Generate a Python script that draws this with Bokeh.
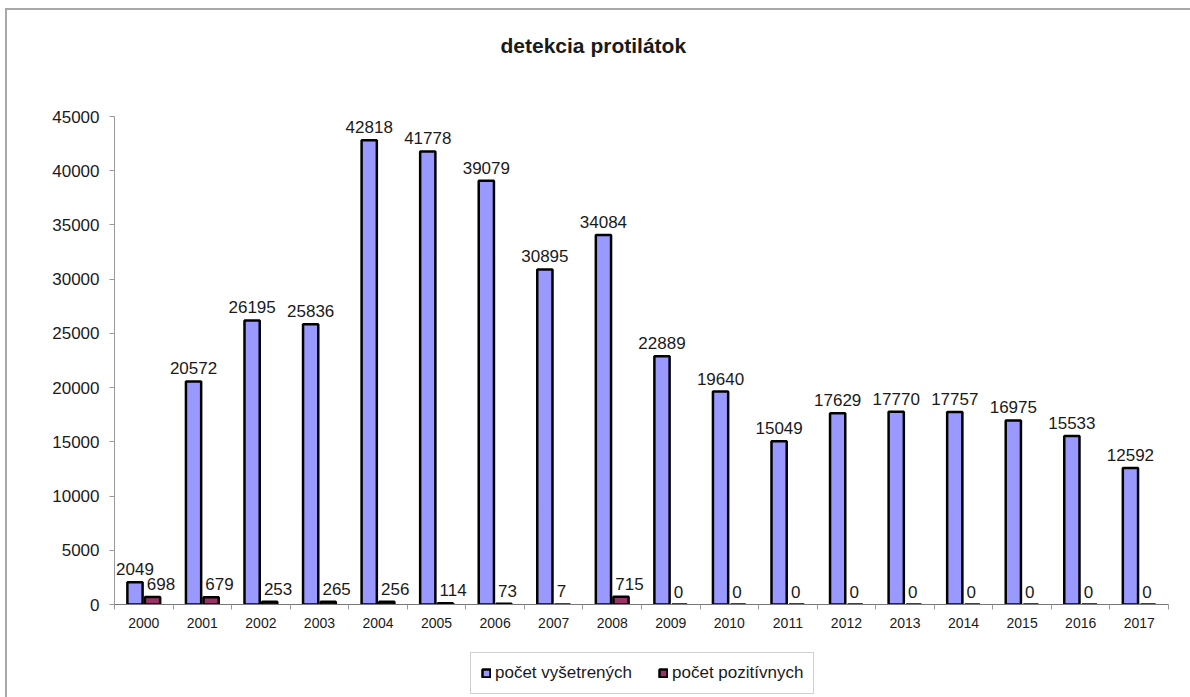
from bokeh.plotting import figure
from bokeh.layouts import column
from bokeh.models import Range1d, FixedTicker, Legend, LegendItem, ColumnDataSource, Title
from bokeh.embed import file_html
from bokeh.resources import INLINE
from bokeh.core.properties import value

years = ["2000", "2001", "2002", "2003", "2004", "2005", "2006", "2007", "2008",
         "2009", "2010", "2011", "2012", "2013", "2014", "2015", "2016", "2017"]
vysetrenych = [2049, 20572, 26195, 25836, 42818, 41778, 39079, 30895, 34084,
               22889, 19640, 15049, 17629, 17770, 17757, 16975, 15533, 12592]
pozitivnych = [698, 679, 253, 265, 256, 114, 73, 7, 715,
               0, 0, 0, 0, 0, 0, 0, 0, 0]
y_ticks = [0, 5000, 10000, 15000, 20000, 25000, 30000, 35000, 40000, 45000]
series_names = ["počet vyšetrených", "počet pozitívnych"]
series_colors = ["#9999FF", "#993366"]

FONT = "Liberation Sans"
TXT = "#1a1a1a"
idx = list(range(len(years)))
BW = 0.26
OFF = 0.15
W = 1183

src = ColumnDataSource(dict(
    xb=[i - OFF for i in idx], xr=[i + OFF for i in idx], xc=idx,
    vb=vysetrenych, vr=pozitivnych,
    lb=[str(v) for v in vysetrenych], lr=[str(v) for v in pozitivnych],
))

p = figure(width=W, height=634, output_backend="svg", toolbar_location=None, title=None,
           x_range=Range1d(-0.5, len(years) - 0.5), y_range=Range1d(0, 45000),
           min_border_left=107, min_border_top=106, min_border_right=22, min_border_bottom=40)
p.outline_line_color = None
p.xgrid.visible = False
p.ygrid.visible = False

# blank spacer (closest to the plot area), then the title above it
spacer = Title(text=" ", text_font_size="40px", text_color="white", standoff=14)
p.add_layout(spacer, "above")
ttl = Title(text="detekcia protilátok", text_font=FONT, text_font_size="21px",
            text_font_style="bold", text_color=TXT, align="left", offset=386, standoff=0)
p.add_layout(ttl, "above")

p.vbar(x="xb", top="vb", width=BW, bottom=0, source=src,
       fill_color=series_colors[0], line_color="black", line_width=2.5)
p.vbar(x="xr", top="vr", width=BW, bottom=0, source=src,
       fill_color=series_colors[1], line_color="black", line_width=2.5)

p.text(x="xb", y="vb", text="lb", source=src, text_align="center",
       text_baseline="alphabetic", y_offset=-13, text_font=value(FONT),
       text_font_size="17px", text_color=TXT)
p.text(x="xc", y="vr", text="lr", source=src, text_align="left",
       text_baseline="alphabetic", x_offset=3, y_offset=-13, text_font=value(FONT),
       text_font_size="17px", text_color=TXT)

# y axis
p.yaxis.ticker = FixedTicker(ticks=y_ticks)
p.yaxis.axis_line_color = "#999999"
p.yaxis.major_tick_line_color = "#999999"
p.yaxis.major_tick_out = 5
p.yaxis.major_tick_in = 0
p.yaxis.minor_tick_line_color = None
p.yaxis.major_label_text_font = FONT
p.yaxis.major_label_text_font_size = "17px"
p.yaxis.major_label_text_color = TXT
p.yaxis.major_label_standoff = 10
p.yaxis.formatter.use_scientific = False

# x axis: labels at category centres, tick marks between categories
p.xaxis.ticker = FixedTicker(ticks=idx, minor_ticks=[i - 0.5 for i in range(len(years) + 1)])
p.xaxis.major_label_overrides = {i: y for i, y in enumerate(years)}
p.xaxis.axis_line_color = "#777777"
p.xaxis.major_tick_out = 0
p.xaxis.major_tick_in = 0
p.xaxis.major_tick_line_color = None
p.xaxis.minor_tick_line_color = "#999999"
p.xaxis.minor_tick_out = 5
p.xaxis.minor_tick_in = 0
p.xaxis.major_label_text_font = FONT
p.xaxis.major_label_text_font_size = "14px"
p.xaxis.major_label_text_color = TXT
p.xaxis.major_label_standoff = 8

# legend strip below the chart
LH = 687 - 634
q = figure(width=W, height=LH, output_backend="svg", toolbar_location=None,
           x_range=Range1d(0, 1), y_range=Range1d(0, 1),
           min_border=0, min_border_left=0, min_border_right=0, min_border_top=0, min_border_bottom=0)
q.axis.visible = False
q.xgrid.visible = False
q.ygrid.visible = False
q.outline_line_color = None
nodata = ColumnDataSource(dict(x=[float("nan")], top=[float("nan")]))
lr_list = [q.vbar(x="x", top="top", bottom=0, width=0.1, source=nodata, fill_color=c,
                  line_color="black", line_width=2.5) for c in series_colors]
legend = Legend(items=[LegendItem(label=n, renderers=[r]) for n, r in zip(series_names, lr_list)],
                orientation="horizontal", location=(356, 3),
                label_text_font=FONT, label_text_font_size="17px", label_text_color=TXT,
                glyph_width=10, glyph_height=10, label_standoff=4, spacing=26,
                padding=10, margin=0, border_line_color="#a0a0a0", border_line_width=1,
                background_fill_color="white", background_fill_alpha=1.0)
q.add_layout(legend, "center")

page = column(p, q, spacing=0)
page.styles = {"border-top": "2px solid #a8a8a8", "border-left": "2px solid #a8a8a8",
               "margin-left": "5px", "margin-top": "8px"}

open("out.html", "w").write(file_html(page, INLINE))
